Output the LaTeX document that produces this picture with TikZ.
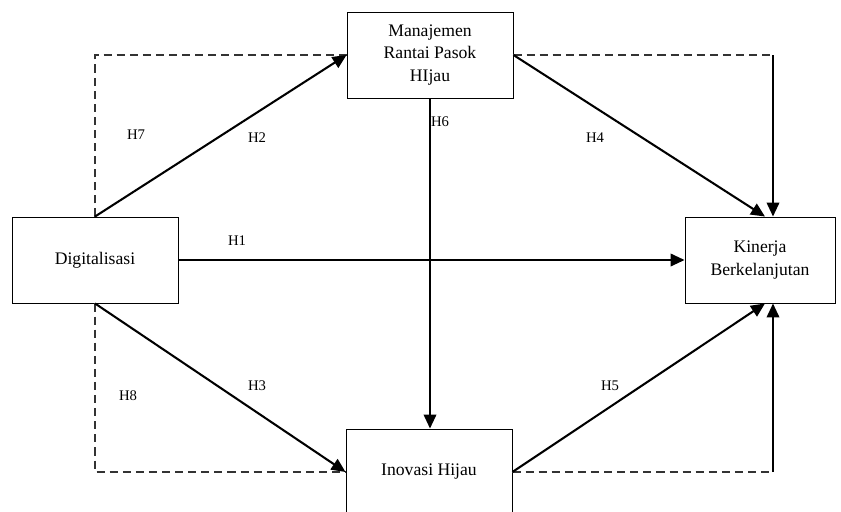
\documentclass[tikz,border=0pt]{standalone}
\usepackage{fontspec}
\setmainfont{Liberation Serif}
\usepackage{tikz}
\usetikzlibrary{positioning,arrows.meta,calc}
\definecolor{dashgray}{HTML}{333333}

\begin{document}
\begin{tikzpicture}[x=0.68pt,y=-0.68pt,font=\fontsize{12}{15.3}\selectfont,>={Triangle[length=9.5pt,width=8.5pt]},
  box/.style={draw,line width=0.6pt,align=center,minimum width=112.9pt,minimum height=58.5pt,inner sep=2pt},
  arr/.style={->,line width=1.4pt},
  dsh/.style={draw=dashgray,line width=0.7pt,dash pattern=on 5.5pt off 3.4pt},
  hlab/.style={font=\fontsize{10}{12}\selectfont,inner sep=0pt}]
\useasboundingbox (0,0) rectangle (841,511);
\node[box] (dig) at (95,260) {Digitalisasi};
\node[box] (man) at (430,55) {Manajemen\\Rantai Pasok\\HIjau};
\node[box,minimum width=102pt] (kin) at (760,260) {Kinerja\\Berkelanjutan};
\node[box] (ino) at (429,472) {Inovasi Hijau};
\coordinate (ne) at (773,55);
\coordinate (se) at (773,472);
% dashed paths
\draw[dsh] (dig.north) |- (man.west);
\draw[dsh] (dig.south) |- (ino.west);
\draw[dsh] (man.east) -- (ne);
\draw[dsh] (ino.east) -- (se);
% direct paths
\draw[arr] (dig.north) -- (man.west);
\draw[arr] (dig.east) -- (kin.west);
\draw[arr] (dig.south) -- (ino.west);
\draw[arr] (man.south) -- (man.south |- ino.north);
\draw[arr] (man.east) -- ([xshift=3.4pt]kin.north);
\draw[arr] (ino.east) -- ([xshift=3.4pt]kin.south);
\draw[arr] (ne) -- (ne |- kin.north);
\draw[arr] (se) -- (se |- kin.south);
\foreach \n/\t/\x/\y in {l7/H7/136/135, l2/H2/257/138, l1/H1/237/241, l6/H6/440/122,
  l4/H4/595/138, l8/H8/128/396, l3/H3/257/386, l5/H5/610/386}
  \node[hlab] (\n) at (\x,\y) {\t};
\end{tikzpicture}
\end{document}
